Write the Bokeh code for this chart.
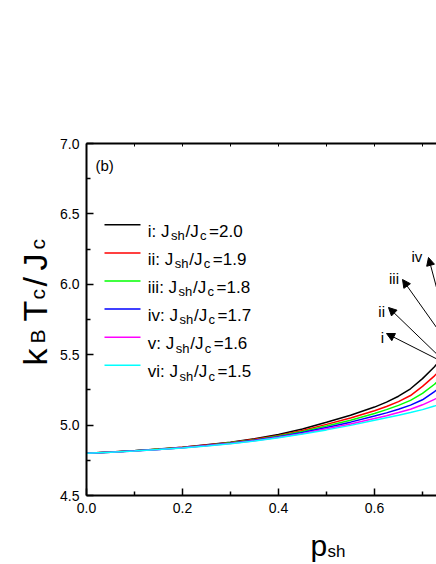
import math
from bokeh.plotting import figure
from bokeh.models import (Range1d, LinearAxis, FixedTicker, PrintfTickFormatter,
                          Label, Arrow, NormalHead)
from bokeh.embed import file_html
from bokeh.resources import INLINE

# ---------------- data ----------------
p_sh = [0.000, 0.050, 0.100, 0.150, 0.200, 0.250, 0.300, 0.350, 0.400, 0.450,
        0.500, 0.550, 0.600, 0.625, 0.650, 0.675, 0.700, 0.725, 0.750]
tc_i = [4.800, 4.809, 4.818, 4.830, 4.843, 4.860, 4.879, 4.903, 4.933, 4.972,
        5.020, 5.070, 5.128, 5.163, 5.205, 5.258, 5.330, 5.415, 5.520]
tc_ii = [4.800, 4.809, 4.817, 4.829, 4.842, 4.858, 4.876, 4.899, 4.927, 4.962,
         5.005, 5.050, 5.102, 5.132, 5.167, 5.210, 5.275, 5.350, 5.440]
tc_iii = [4.800, 4.808, 4.817, 4.828, 4.841, 4.856, 4.874, 4.895, 4.922, 4.955,
          4.994, 5.035, 5.083, 5.110, 5.140, 5.176, 5.225, 5.290, 5.370]
tc_iv = [4.800, 4.808, 4.817, 4.827, 4.840, 4.855, 4.872, 4.892, 4.917, 4.948,
         4.983, 5.021, 5.064, 5.087, 5.113, 5.142, 5.180, 5.238, 5.305]
tc_v = [4.800, 4.808, 4.816, 4.827, 4.839, 4.853, 4.870, 4.889, 4.913, 4.941,
        4.974, 5.008, 5.047, 5.067, 5.089, 5.113, 5.144, 5.183, 5.230]
tc_vi = [4.800, 4.808, 4.816, 4.826, 4.838, 4.852, 4.868, 4.887, 4.910, 4.936,
         4.966, 4.998, 5.034, 5.052, 5.070, 5.089, 5.110, 5.135, 5.165]

series = [tc_i, tc_ii, tc_iii, tc_iv, tc_v, tc_vi]
series_names = ["i", "ii", "iii", "iv", "v", "vi"]
ratios = ["2.0", "1.9", "1.8", "1.7", "1.6", "1.5"]
colors = ["#000000", "#ff0000", "#00ff00", "#0000ff", "#ff00ff", "#00ffff"]
arrow_labels = ["i", "ii", "iii", "iv"]

x_major = [0.0, 0.2, 0.4, 0.6]
x_minor = [0.1, 0.3, 0.5, 0.7]
y_major = [4.5, 5.0, 5.5, 6.0, 6.5, 7.0]
y_minor = [4.75, 5.25, 5.75, 6.25, 6.75]

# ---------------- layout ----------------
FONT = "Liberation Sans"
W, H = 436, 564
FL, FT, FB = 86, 143, 69          # where the axes box sits inside the canvas
XA, XB = 0.0, (W - FL) / 480.0    # visible p_sh span of the box
YA, YB = 4.5, 7.0
PX_X = (W - FL) / (XB - XA)       # px per x unit
PX_Y = (H - FT - FB) / (YB - YA)  # px per y unit
X0 = XA - FL / PX_X
X1 = XB
Y0 = YA - FB / PX_Y
Y1 = YB + FT / PX_Y

def sx(img_x):
    return X0 + img_x / PX_X

def sy(img_y):
    return Y1 - img_y / PX_Y

p = figure(width=W, height=H, output_backend="svg", toolbar_location=None,
           x_range=Range1d(X0, X1), y_range=Range1d(Y0, Y1),
           x_axis_type=None, y_axis_type=None, min_border=0)
p.outline_line_color = None
p.background_fill_color = "white"
p.border_fill_color = "white"

def style_axis(ax, major, minor, tick_in, minor_in, labels=True, lw=2):
    ax.ticker = FixedTicker(ticks=major, minor_ticks=minor)
    ax.formatter = PrintfTickFormatter(format="%.1f")
    ax.axis_line_width = lw
    ax.axis_line_color = "black"
    ax.major_tick_in = tick_in
    ax.major_tick_out = 0
    ax.minor_tick_in = minor_in
    ax.minor_tick_out = 0
    ax.major_tick_line_width = 1.5
    ax.minor_tick_line_width = 1.5
    ax.major_tick_line_color = "black"
    ax.minor_tick_line_color = "black"
    ax.major_label_text_font = FONT
    ax.major_label_text_font_size = "14px"
    ax.major_label_text_color = "black" if labels else None

xb = LinearAxis(fixed_location=YA, bounds=(XA, 1.0))
style_axis(xb, x_major, x_minor, 7, 4)
xb.major_label_standoff = 7
p.add_layout(xb, "below")

yl = LinearAxis(fixed_location=XA, bounds=(YA, YB))
style_axis(yl, y_major, y_minor, 7, 4)
yl.major_label_standoff = 7
p.add_layout(yl, "left")

xt = LinearAxis(fixed_location=YB, bounds=(XA, 1.0))
style_axis(xt, x_major, x_minor, 3, 3, labels=False, lw=2)
xt.major_tick_line_width = 1
xt.minor_tick_line_width = 1
p.add_layout(xt, "above")

# ---------------- curves ----------------
for ys, c in zip(series, colors):
    p.line(p_sh, ys, line_color=c, line_width=1.5)

# ---------------- legend (manual, with subscripts) ----------------
AW = {"i": 222, "v": 500, ":": 278, " ": 278, "J": 500}

def tw(s, size):
    return sum(AW.get(ch, 556) for ch in s) * size / 1000.0

def lab(x, y, text, size, **kw):
    p.add_layout(Label(x=x, y=y, text=text, text_font=FONT,
                       text_font_size=f"{size}px", text_color="black",
                       text_baseline=kw.pop("baseline", "alphabetic"),
                       text_align=kw.pop("align", "left"), **kw))

MAIN, SUB = 17, 13
for k, (name, r, c) in enumerate(zip(series_names, ratios, colors)):
    ly = 224.3 + k * 28.1
    p.segment(x0=[sx(104)], y0=[sy(ly)], x1=[sx(140)], y1=[sy(ly)],
              line_color=c, line_width=1.5)
    base = ly + 6.5
    first = f"{name}: J"
    x0 = 147.3
    lab(sx(x0), sy(base), first, MAIN)
    end = x0 + tw(first, MAIN)
    lab(sx(end + 1.5), sy(base + 4.3), "sh", SUB)
    lab(sx(end + 16.0), sy(base), "/J", MAIN)
    lab(sx(end + 30.5), sy(base + 4.3), "c", SUB)
    lab(sx(end + 39.5), sy(base), "=" + r, MAIN)

# panel tag
lab(sx(95), sy(165), "(b)", 15)

# ---------------- arrows ----------------
heads = [(386, 333), (388, 307), (402, 279), (428, 257)]
tails = [(450, 365.4), (450, 366.8), (450, 346.7), (450, 339.5)]
text_pos = [(382, 336.7), (381.2, 310.7), (393.5, 278.3), (416.3, 256)]
for (hx, hy), (tx, ty), (lx, lyy), t in zip(heads, tails, text_pos, arrow_labels):
    p.add_layout(Arrow(end=NormalHead(size=8, fill_color="black", line_color="black",
                                      line_width=1),
                       x_start=sx(tx), y_start=sy(ty), x_end=sx(hx), y_end=sy(hy),
                       line_color="black", line_width=1))
    lab(sx(lx), sy(lyy), t, 15, align="center")

# ---------------- axis titles ----------------
ANG = math.pi / 2
lab(sx(34), sy(365), "k", 34, angle=ANG)
lab(sx(37), sy(343), "B", 21, angle=ANG)
lab(sx(34), sy(321), "T", 34, angle=ANG)
lab(sx(37), sy(299), "c", 21, angle=ANG)
lab(sx(34), sy(286), "/", 34, angle=ANG)
lab(sx(34), sy(270), "J", 34, angle=ANG)
lab(sx(37), sy(249), "c", 21, angle=ANG)

lab(sx(310), sy(545), "p", 30)
lab(sx(327), sy(551), "sh", 17)

open("out.html", "w").write(file_html(p, INLINE))
